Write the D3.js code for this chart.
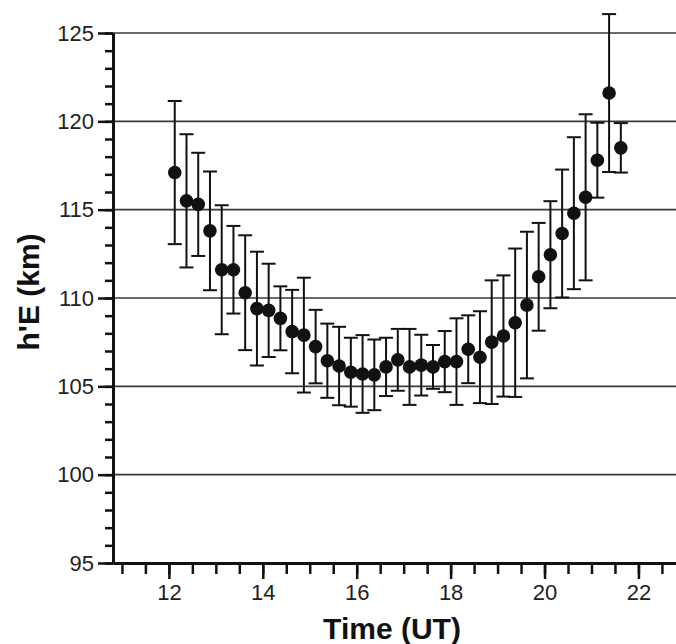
<!DOCTYPE html>
<html>
<head>
<meta charset="utf-8">
<script src="https://cdn.jsdelivr.net/npm/d3@7"></script>
<style>
  body { margin: 0; background: #fff; }
  svg { display: block; font-family: "Liberation Sans", Arial, sans-serif; }
</style>
</head>
<body>
<svg class="chart"></svg>
<script>
/**
 * h'E vs time, mean with error bars
 */

// hours (UT)
var times = [12.125, 12.375, 12.625, 12.875, 13.125, 13.375, 13.625, 13.875,
             14.125, 14.375, 14.625, 14.875, 15.125, 15.375, 15.625, 15.875,
             16.125, 16.375, 16.625, 16.875, 17.125, 17.375, 17.625, 17.875,
             18.125, 18.375, 18.625, 18.875, 19.125, 19.375, 19.625, 19.875,
             20.125, 20.375, 20.625, 20.875, 21.125, 21.375, 21.625];

// mean h'E (km)
var heights = [117.1, 115.5, 115.3, 113.8, 111.6, 111.6, 110.3, 109.4,
               109.3, 108.85, 108.1, 107.9, 107.25, 106.45, 106.15, 105.8,
               105.7, 105.65, 106.1, 106.5, 106.1, 106.2, 106.1, 106.4,
               106.4, 107.1, 106.65, 107.5, 107.85, 108.6, 109.6, 111.2,
               112.45, 113.65, 114.8, 115.7, 117.8, 121.6, 118.5];

// error bar half length (km)
var errors = [4.05, 3.77, 2.92, 3.36, 3.65, 2.48, 3.25, 3.22,
              2.64, 1.81, 2.36, 3.25, 2.08, 2.1, 2.22, 1.95,
              2.2, 2.0, 1.65, 1.75, 2.15, 1.72, 1.24, 1.73,
              2.45, 1.92, 2.6, 3.5, 3.43, 4.2, 4.15, 3.05,
              3.03, 3.62, 4.3, 4.7, 2.12, 4.47, 1.4];

var xTicks = [12, 14, 16, 18, 20, 22];
var xMinorTicks = [11, 11.5, 12, 12.5, 13, 13.5, 14, 14.5, 15, 15.5, 16, 16.5,
                   17, 17.5, 18, 18.5, 19, 19.5, 20, 20.5, 21, 21.5, 22, 22.5];
var yTicks = [95, 100, 105, 110, 115, 120, 125];
var yMinorTicks = d3.range(95, 126, 1);

var width = 676, height = 644;
var data = times.map(function(t, i) {
  return {t: t, h: heights[i], e: errors[i]};
});

var x = d3.scaleLinear().domain([10.81, 22.8]).range([113, 676]);
var y = d3.scaleLinear().domain([95, 125]).range([563, 33]);

var svg = d3.select('svg.chart')
    .attr('width', width)
    .attr('height', height);

// Grid lines
svg.append('g')
  .selectAll('line')
    .data(yTicks.slice(1))
  .enter().append('line')
    .attr('x1', x.range()[0])
    .attr('x2', width)
    .attr('y1', function(d) { return y(d); })
    .attr('y2', function(d) { return y(d); })
    .attr('stroke', '#3a3a3a')
    .attr('stroke-width', 1.6);

// Error bars
var bars = svg.append('g')
    .attr('stroke', '#111')
    .attr('stroke-width', 2)
  .selectAll('g')
    .data(data)
  .enter().append('g');

bars.append('line')
    .attr('x1', function(d) { return x(d.t); })
    .attr('x2', function(d) { return x(d.t); })
    .attr('y1', function(d) { return y(d.h + d.e); })
    .attr('y2', function(d) { return y(d.h - d.e); });
bars.append('line')
    .attr('x1', function(d) { return x(d.t) - 7; })
    .attr('x2', function(d) { return x(d.t) + 7; })
    .attr('y1', function(d) { return y(d.h + d.e); })
    .attr('y2', function(d) { return y(d.h + d.e); });
bars.append('line')
    .attr('x1', function(d) { return x(d.t) - 7; })
    .attr('x2', function(d) { return x(d.t) + 7; })
    .attr('y1', function(d) { return y(d.h - d.e); })
    .attr('y2', function(d) { return y(d.h - d.e); });

// Points
svg.append('g')
  .selectAll('circle')
    .data(data)
  .enter().append('circle')
    .attr('cx', function(d) { return x(d.t); })
    .attr('cy', function(d) { return y(d.h); })
    .attr('r', 6.8)
    .attr('fill', '#111');

// Axes
var gx = y(95), gy = x.range()[0];

svg.append('g')
    .attr('transform', 'translate(0,' + gx + ')')
    .call(d3.axisBottom(x).tickValues(xMinorTicks).tickSize(11).tickSizeOuter(0).tickFormat(''));
svg.append('g')
    .attr('transform', 'translate(0,' + gx + ')')
    .call(d3.axisBottom(x).tickValues(xTicks).tickSize(16).tickSizeOuter(0).tickPadding(5));

svg.append('g')
    .attr('transform', 'translate(' + gy + ',0)')
    .call(d3.axisLeft(y).tickValues(yMinorTicks).tickSize(8).tickSizeOuter(0).tickFormat(''));
svg.append('g')
    .attr('transform', 'translate(' + gy + ',0)')
    .call(d3.axisLeft(y).tickValues(yTicks).tickSize(15).tickSizeOuter(0).tickPadding(4));

svg.selectAll('.domain')
    .attr('stroke', '#111')
    .attr('stroke-width', 3);
svg.selectAll('.tick line')
    .attr('stroke', '#111')
    .attr('stroke-width', 2.5);
svg.selectAll('.tick text')
    .attr('font-family', '"Liberation Sans", Arial, sans-serif')
    .attr('font-size', 22)
    .attr('fill', '#222');

// Titles
svg.append('text')
    .attr('x', 392)
    .attr('y', 639)
    .attr('text-anchor', 'middle')
    .attr('font-size', 30)
    .attr('font-weight', 'bold')
    .attr('fill', '#111')
    .text('Time (UT)');

svg.append('text')
    .attr('transform', 'translate(39,292) rotate(-90)')
    .attr('text-anchor', 'middle')
    .attr('font-size', 30)
    .attr('font-weight', 'bold')
    .attr('fill', '#111')
    .text("h'E (km)");
</script>
</body>
</html>
